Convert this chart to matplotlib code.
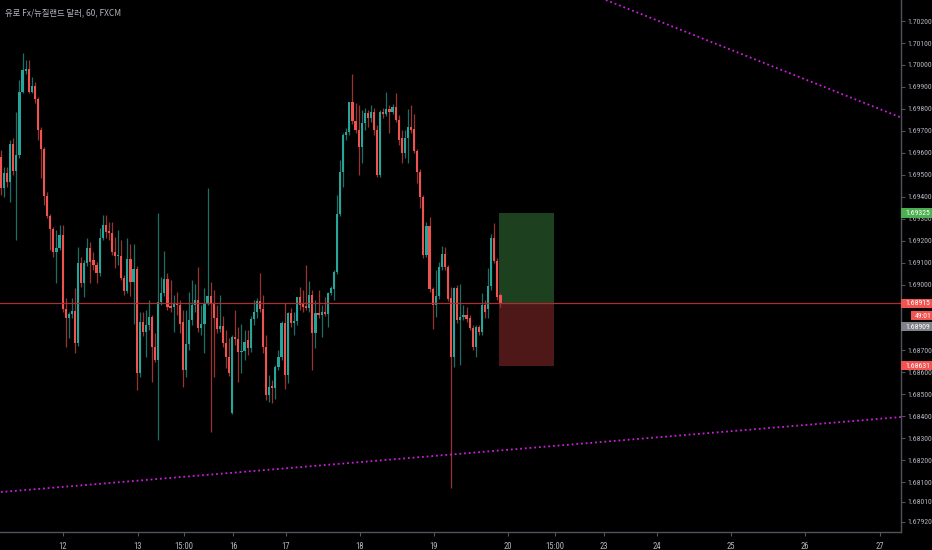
import numpy as np
import matplotlib
matplotlib.use("Agg")
import matplotlib.pyplot as plt
from matplotlib.patches import Rectangle

# EUR/NZD 60 min candles
opens = [
    1.69581, 1.69440, 1.69508, 1.69467, 1.69640, 1.69517, 1.69590, 1.69877, 1.69973, 1.69982,
    1.69877, 1.69904, 1.69845, 1.69704, 1.69617, 1.69403, 1.69312, 1.69253, 1.69148, 1.69166,
    1.69226, 1.68889, 1.68848, 1.68866, 1.68879, 1.68734, 1.69098, 1.69007, 1.69098, 1.69166,
    1.69112, 1.69089, 1.69053, 1.69212, 1.69271, 1.69244, 1.69235, 1.69148, 1.69130, 1.69130,
    1.69030, 1.68970, 1.69116, 1.69012, 1.69071, 1.68597, 1.68829, 1.68784, 1.68816, 1.68852,
    1.68715, 1.68656, 1.68920, 1.68961, 1.69025, 1.68902, 1.68898, 1.68911, 1.68907, 1.68829,
    1.68611, 1.68729, 1.68838, 1.68907, 1.68930, 1.68802, 1.68820, 1.68916, 1.68948, 1.68916,
    1.68848, 1.68797, 1.68811, 1.68734, 1.68670, 1.68415, 1.68761, 1.68752, 1.68693, 1.68697,
    1.68747, 1.68711, 1.68843, 1.68875, 1.68925, 1.68889, 1.68715, 1.68497, 1.68538, 1.68529,
    1.68624, 1.68670, 1.68825, 1.68588, 1.68870, 1.68825, 1.68834, 1.68943, 1.68916, 1.68902,
    1.68893, 1.68952, 1.68779, 1.68870, 1.68861, 1.68875, 1.68866, 1.68961, 1.68980, 1.69057,
    1.69321, 1.69513, 1.69681, 1.69695, 1.69831, 1.69745, 1.69704, 1.69626, 1.69736, 1.69781,
    1.69759, 1.69786, 1.69704, 1.69499, 1.69786, 1.69777, 1.69800, 1.69786, 1.69809, 1.69749,
    1.69667, 1.69599, 1.69667, 1.69718, 1.69708, 1.69608, 1.69513, 1.69399, 1.69135, 1.69267,
    1.68980, 1.68907, 1.68948, 1.69080, 1.69139, 1.69080, 1.68939, 1.68670, 1.68984, 1.68838,
    1.68852, 1.68861, 1.68848, 1.68802, 1.68715, 1.68807, 1.68784, 1.68907, 1.68889, 1.68993,
    1.69212, 1.69107, 1.68952,
]
highs = [
    1.69613, 1.69535, 1.69535, 1.69658, 1.69667, 1.69786, 1.69932, 1.70055, 1.70023, 1.70023,
    1.69945, 1.69923, 1.69854, 1.69718, 1.69626, 1.69421, 1.69321, 1.69262, 1.69248, 1.69271,
    1.69271, 1.68939, 1.68875, 1.68939, 1.68984, 1.69171, 1.69125, 1.69112, 1.69212, 1.69194,
    1.69148, 1.69103, 1.69257, 1.69317, 1.69317, 1.69285, 1.69285, 1.69216, 1.69248, 1.69203,
    1.69043, 1.69212, 1.69185, 1.69185, 1.69084, 1.68875, 1.68875, 1.68884, 1.68930, 1.68861,
    1.68779, 1.69326, 1.69034, 1.69153, 1.69053, 1.69021, 1.68952, 1.68966, 1.68930, 1.68884,
    1.68884, 1.68966, 1.69021, 1.69002, 1.69080, 1.68907, 1.68984, 1.69440, 1.69012, 1.68975,
    1.68907, 1.68952, 1.68857, 1.68793, 1.68756, 1.68770, 1.68884, 1.68807, 1.68820, 1.68793,
    1.68793, 1.68857, 1.68930, 1.68939, 1.69053, 1.68952, 1.68770, 1.68588, 1.68565, 1.68634,
    1.68702, 1.68834, 1.68916, 1.68875, 1.68893, 1.68875, 1.68943, 1.68989, 1.68975, 1.69089,
    1.69016, 1.68975, 1.68930, 1.68975, 1.68907, 1.68943, 1.68966, 1.68993, 1.69066, 1.69408,
    1.69567, 1.69690, 1.69713, 1.69831, 1.69959, 1.69827, 1.69818, 1.69795, 1.69804, 1.69795,
    1.69818, 1.69804, 1.69727, 1.69795, 1.69804, 1.69877, 1.69818, 1.69822, 1.69872, 1.69772,
    1.69704, 1.69704, 1.69800, 1.69818, 1.69777, 1.69617, 1.69526, 1.69408, 1.69285, 1.69308,
    1.68989, 1.69066, 1.69103, 1.69175, 1.69171, 1.69089, 1.68989, 1.68989, 1.68998, 1.69002,
    1.68907, 1.68898, 1.68861, 1.68816, 1.68816, 1.68816, 1.68961, 1.68930, 1.69075, 1.69230,
    1.69280, 1.69121, 1.68961,
]
lows = [
    1.69408, 1.69399, 1.69444, 1.69376, 1.69499, 1.69203, 1.69576, 1.69872, 1.69959, 1.69872,
    1.69872, 1.69827, 1.69658, 1.69485, 1.69362, 1.69303, 1.69157, 1.69125, 1.69007, 1.69157,
    1.68875, 1.68715, 1.68756, 1.68848, 1.68688, 1.68720, 1.68989, 1.68943, 1.69084, 1.69007,
    1.69066, 1.69007, 1.69039, 1.69203, 1.69212, 1.69203, 1.69135, 1.69075, 1.69089, 1.69021,
    1.68952, 1.68961, 1.68948, 1.68820, 1.68520, 1.68579, 1.68765, 1.68670, 1.68793, 1.68556,
    1.68647, 1.68292, 1.68907, 1.68948, 1.68884, 1.68875, 1.68784, 1.68861, 1.68779, 1.68533,
    1.68579, 1.68702, 1.68816, 1.68875, 1.68784, 1.68770, 1.68688, 1.68907, 1.68328, 1.68579,
    1.68779, 1.68784, 1.68715, 1.68620, 1.68583, 1.68410, 1.68725, 1.68556, 1.68597, 1.68656,
    1.68679, 1.68693, 1.68816, 1.68848, 1.68875, 1.68688, 1.68474, 1.68465, 1.68460, 1.68478,
    1.68611, 1.68656, 1.68524, 1.68551, 1.68807, 1.68770, 1.68816, 1.68884, 1.68875, 1.68884,
    1.68875, 1.68611, 1.68711, 1.68848, 1.68761, 1.68857, 1.68807, 1.68952, 1.68930, 1.69048,
    1.69312, 1.69444, 1.69658, 1.69681, 1.69731, 1.69690, 1.69499, 1.69554, 1.69704, 1.69718,
    1.69740, 1.69681, 1.69490, 1.69490, 1.69759, 1.69768, 1.69690, 1.69777, 1.69740, 1.69636,
    1.69554, 1.69576, 1.69554, 1.69690, 1.69599, 1.69462, 1.69349, 1.69121, 1.69125, 1.68966,
    1.68797, 1.68852, 1.68934, 1.69066, 1.69066, 1.68925, 1.68073, 1.68624, 1.68825, 1.68634,
    1.68838, 1.68829, 1.68793, 1.68702, 1.68670, 1.68770, 1.68770, 1.68848, 1.68848, 1.68975,
    1.69098, 1.68930, 1.68898,
]
closes = [
    1.69440, 1.69508, 1.69467, 1.69640, 1.69517, 1.69590, 1.69877, 1.69977, 1.69982, 1.69877,
    1.69904, 1.69845, 1.69704, 1.69617, 1.69403, 1.69312, 1.69253, 1.69148, 1.69166, 1.69226,
    1.68889, 1.68848, 1.68866, 1.68879, 1.68734, 1.69098, 1.69007, 1.69098, 1.69166, 1.69103,
    1.69089, 1.69053, 1.69212, 1.69271, 1.69239, 1.69235, 1.69148, 1.69130, 1.69135, 1.69030,
    1.68970, 1.69116, 1.69012, 1.69071, 1.68597, 1.68829, 1.68784, 1.68816, 1.68852, 1.68715,
    1.68656, 1.68920, 1.68961, 1.69025, 1.68898, 1.68893, 1.68911, 1.68907, 1.68820, 1.68611,
    1.68729, 1.68838, 1.68907, 1.68930, 1.68802, 1.68820, 1.68916, 1.68948, 1.68911, 1.68848,
    1.68797, 1.68811, 1.68734, 1.68670, 1.68597, 1.68761, 1.68752, 1.68693, 1.68697, 1.68738,
    1.68711, 1.68843, 1.68875, 1.68925, 1.68889, 1.68715, 1.68497, 1.68533, 1.68529, 1.68624,
    1.68670, 1.68825, 1.68588, 1.68870, 1.68825, 1.68834, 1.68943, 1.68907, 1.68898, 1.68893,
    1.68952, 1.68779, 1.68870, 1.68861, 1.68875, 1.68866, 1.68961, 1.68984, 1.69057, 1.69321,
    1.69513, 1.69681, 1.69695, 1.69831, 1.69745, 1.69704, 1.69626, 1.69736, 1.69781, 1.69759,
    1.69786, 1.69704, 1.69499, 1.69786, 1.69777, 1.69800, 1.69786, 1.69809, 1.69749, 1.69658,
    1.69599, 1.69667, 1.69718, 1.69704, 1.69608, 1.69513, 1.69399, 1.69135, 1.69267, 1.68980,
    1.68907, 1.68948, 1.69080, 1.69139, 1.69080, 1.68934, 1.68670, 1.68984, 1.68838, 1.68852,
    1.68861, 1.68843, 1.68802, 1.68715, 1.68807, 1.68784, 1.68907, 1.68875, 1.68993, 1.69212,
    1.69107, 1.68943, 1.68915,
]

# time axis labels (bar index positions)
date_ticks = [20.1, 44.4, 59.4, 75.3, 92.4, 116.4, 140.4, 164.4, 179.7, 195.6, 212.8, 236.8, 260.8, 285.1]
date_labels = ["12", "13", "15:00", "16", "17", "18", "19", "20", "15:00", "23", "24", "25", "26", "27"]

# price scale (1.68900 / 1.68800 sit fully under the price tags)
price_ticks = [1.702, 1.701, 1.700, 1.699, 1.698, 1.697, 1.696, 1.695, 1.694, 1.693, 1.692, 1.691,
               1.690, 1.687, 1.686, 1.685, 1.684, 1.683, 1.682, 1.681, 1.6801, 1.6792]

# drawings
upper_trend_x = [196.2, 292.2]
upper_trend_y = [1.70296, 1.69759]
lower_trend_x = [0.0, 292.2]
lower_trend_y = [1.68055, 1.68397]

entry_price = 1.68915
target_price = 1.69325
stop_price = 1.68631
box_start, box_end = 161.6, 179.5
last_price = 1.68915
bid_price = 1.68909
countdown = "49:01"

title = "유로 Fx/뉴질랜드 달러, 60, FXCM"

UP, DOWN = "#26a69a", "#ef5350"
UP_WICK, DOWN_WICK = "#1b6f67", "#9a3330"
TXT = "#b2b5be"
AXC = "#50535e"
NARROW = ["Liberation Sans Narrow", "DejaVu Sans Condensed", "Roboto Condensed", "DejaVu Sans"]
LBL = 5.6

W, H = 932, 550
fig = plt.figure(figsize=(W / 100, H / 100), dpi=100, facecolor="black")
ax = fig.add_axes([0, 18 / H, 901 / W, 1 - 18 / H])
ax.set_facecolor("black")

o = np.array(opens)
hi = np.array(highs)
lo = np.array(lows)
c = np.array(closes)
x = np.arange(len(c))
up = c >= o

ax.vlines(x, lo, hi, colors=np.where(up, UP_WICK, DOWN_WICK), linewidth=0.9, zorder=2)
body = np.maximum(np.abs(c - o), 0.00003)
ax.bar(x, body, bottom=np.minimum(o, c), width=0.7,
       color=np.where(up, UP, DOWN), linewidth=0, zorder=3)

# long position tool
ax.add_patch(Rectangle((box_start, entry_price), box_end - box_start, target_price - entry_price,
                       facecolor="#1d401f", edgecolor="none", zorder=1))
ax.add_patch(Rectangle((box_start, stop_price), box_end - box_start, entry_price - stop_price,
                       facecolor="#4e1818", edgecolor="none", zorder=1))

ax.axhline(last_price, color="#a83030", linewidth=0.9, zorder=3.5)

ax.plot(upper_trend_x, upper_trend_y, color="#cc1fdc", linewidth=1.3, linestyle=(0, (1, 1.6)), zorder=4)
ax.plot(lower_trend_x, lower_trend_y, color="#cc1fdc", linewidth=1.3, linestyle=(0, (1, 1.6)), zorder=4)

ax.set_xlim(-0.3, 291.9)
ax.set_ylim(1.67873, 1.70296)

ax.yaxis.tick_right()
ax.set_yticks(price_ticks)
ax.set_yticklabels([f"{v:.5f}" for v in price_ticks])
ax.set_xticks(date_ticks)
ax.set_xticklabels(date_labels)
ax.tick_params(axis="both", colors=AXC, labelcolor=TXT, labelsize=LBL, length=3, width=0.8, pad=1.5)
ax.tick_params(axis="x", pad=4, labelsize=6.2)
for lab in ax.get_yticklabels() + ax.get_xticklabels():
    lab.set_family(NARROW)
for side in ["top", "left"]:
    ax.spines[side].set_visible(False)
for side in ["bottom", "right"]:
    ax.spines[side].set_color(AXC)
    ax.spines[side].set_linewidth(1.0)

fig.canvas.draw()


def price_tag(price, label, face, dy=0.0, x0=901):
    yd = ax.transData.transform((0, price))[1] + dy
    fig.patches.append(Rectangle((x0 / W, (yd - 4.7) / H), (W - x0) / W, 9.4 / H,
                                 transform=fig.transFigure, facecolor=face, edgecolor="none"))
    fig.text((x0 + 4) / W, yd / H, label, ha="left", va="center", fontsize=LBL, color="white",
             family=NARROW)


price_tag(target_price, f"{target_price:.5f}", "#4caf50")
price_tag(last_price, f"{last_price:.5f}", "#f05350")
price_tag(last_price, countdown, "#f05350", dy=-12.3, x0=911)
price_tag(last_price, f"{bid_price:.5f}", "#808289", dy=-23.5)
price_tag(stop_price, f"{stop_price:.5f}", "#f05350")

fig.text(5 / W, 1 - 13 / H, title, ha="left", va="center", fontsize=6.0, color=TXT,
         family=["Noto Sans CJK KR", "DejaVu Sans"])

fig.savefig("out.png", dpi=100, facecolor="black")
